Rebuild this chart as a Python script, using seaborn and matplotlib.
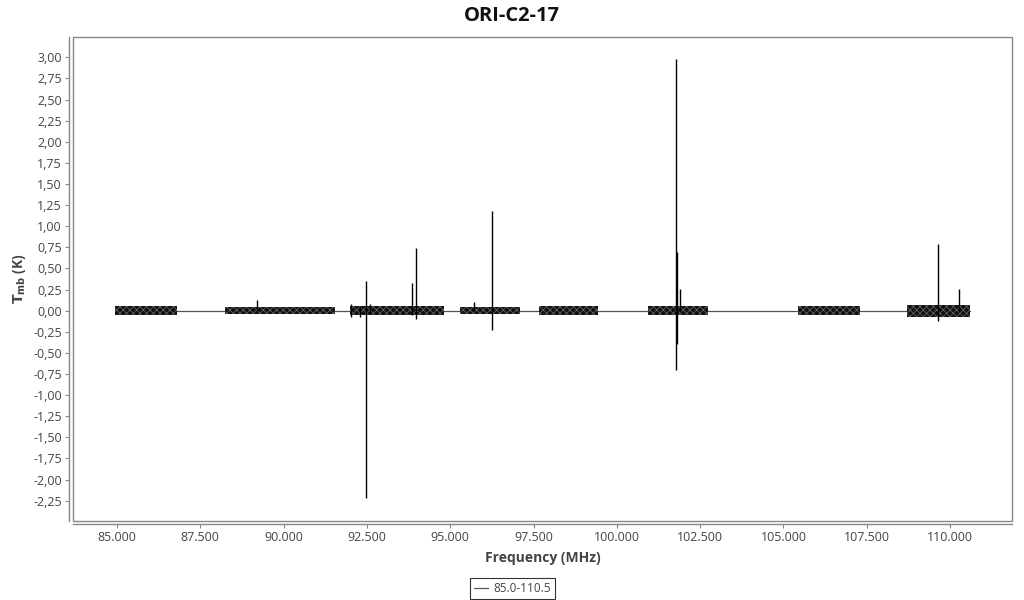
import numpy as np
import pandas as pd
import seaborn as sns
import matplotlib
matplotlib.use("Agg")
from matplotlib import pyplot as plt
from matplotlib.patches import Rectangle
from matplotlib.ticker import FuncFormatter, MultipleLocator

# noise bands of the spectrum (MHz) and their half width (K)
band_start = [84.95, 88.25, 92.00, 95.30, 97.65, 100.95, 105.45, 108.70]
band_end = [86.80, 91.55, 94.80, 97.10, 99.45, 102.75, 107.30, 110.60]
band_amp = [0.055, 0.045, 0.05, 0.045, 0.055, 0.055, 0.055, 0.07]

# narrow lines: frequency, lowest and highest value (K)
spike_freq = [89.20, 92.02, 92.30, 92.47, 92.60, 93.85, 93.97, 95.70, 96.25,
              101.78, 101.80, 101.90, 109.64, 110.27]
spike_low = [0.0, -0.08, -0.07, -2.22, -0.03, -0.05, -0.10, 0.0, -0.23,
             -0.70, -0.40, -0.02, -0.12, -0.02]
spike_high = [0.13, 0.08, 0.05, 0.35, 0.08, 0.33, 0.74, 0.10, 1.18,
              2.98, 0.70, 0.26, 0.79, 0.26]

# baseline between the bands
base_freq = [84.95, 110.60]
base_val = [0.0, 0.0]

sns.set_theme(style="white")
plt.rcParams['font.family'] = ['Open Sans', 'DejaVu Sans']
plt.rcParams['hatch.linewidth'] = 0.5

fig = plt.figure(figsize=(10.24, 6.0), dpi=100)
ax = fig.add_axes([73 / 1024, 1 - 521 / 600, (1012 - 73) / 1024, (521 - 37) / 600])

df_base = pd.DataFrame({'freq': base_freq, 'val': base_val})
sns.lineplot(data=df_base, x='freq', y='val', ax=ax, color='#555555', lw=0.9,
             label='85.0-110.5', zorder=2)

for s, e, a in zip(band_start, band_end, band_amp):
    ax.fill_between([s, e], [-a, -a], [a, a], facecolor='#111111',
                    edgecolor='#6a6a6a', hatch='xxxxx', lw=0, zorder=3)

ax.vlines(spike_freq, spike_low, spike_high, color='black', lw=1.0, zorder=4)

ax.set_xlim(83.68, 111.86)
ax.set_ylim(-2.49, 3.24)
ax.xaxis.set_major_locator(MultipleLocator(2.5))
ax.yaxis.set_major_locator(MultipleLocator(0.25))
ax.xaxis.set_major_formatter(FuncFormatter(lambda v, p: f"{v:.3f}"))
ax.yaxis.set_major_formatter(FuncFormatter(lambda v, p: f"{v:.2f}".replace('.', ',')))

for side in ['top', 'right']:
    ax.spines[side].set_visible(False)
ax.spines['left'].set_position(('outward', 3))
ax.spines['bottom'].set_position(('outward', 2.5))
for side in ['left', 'bottom']:
    ax.spines[side].set_color('#888888')
    ax.spines[side].set_linewidth(1.0)
ax.add_patch(Rectangle((0, 0), 1, 1, transform=ax.transAxes, fill=False,
                       edgecolor='#888888', lw=1.0, clip_on=False, zorder=5))

ax.tick_params(axis='both', which='major', direction='out', length=3, width=0.8,
               color='#888888', labelsize=9, labelcolor='#444444', pad=2,
               bottom=True, left=True)

ax.set_xlabel('Frequency (MHz)', fontsize=10, fontweight='bold', color='#444444', labelpad=5)
ax.set_ylabel(r'$\mathbf{T_{mb}}$ (K)', fontsize=10, fontweight='bold', color='#444444', labelpad=4)
fig.suptitle('ORI-C2-17', fontsize=14.5, fontweight='bold', y=0.99, color='#111111')

leg = ax.legend(loc='upper center', bbox_to_anchor=(0.468, -0.105), frameon=True,
                fancybox=False, edgecolor='black', fontsize=8.5, handlelength=1.2,
                handletextpad=0.4, borderpad=0.35)
leg.get_frame().set_linewidth(0.8)
for t in leg.get_texts():
    t.set_color('#444444')

fig.savefig('out.png', dpi=100)
